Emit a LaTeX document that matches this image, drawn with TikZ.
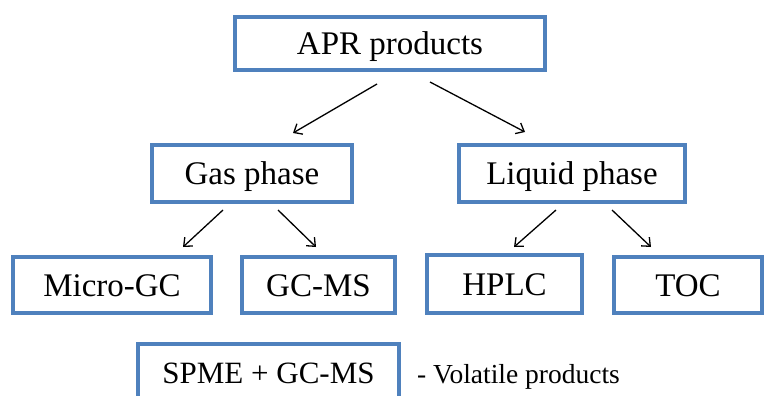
\documentclass[tikz,border=0pt]{standalone}
\usepackage{fontspec}
\setmainfont{Liberation Serif}
\newfontfamily\tnr{Liberation Serif}
\usetikzlibrary{arrows.meta,calc}
\definecolor{boxblue}{RGB}{79,129,189}
\begin{document}
\begin{tikzpicture}[x=1pt,y=-1pt,
  box/.style={draw=boxblue,line width=4pt,rectangle,inner sep=0pt,
    text height=22pt,text depth=0pt,font=\tnr\fontsize{33}{40}\selectfont},
  arr/.style={draw=black,line width=1.3pt,-{Straight Barb[length=7pt,width=12pt]}}]
\clip (0,0) rectangle (764,396);
\fill[white] (0,0) rectangle (764,396);
\node[box,minimum width=310pt,minimum height=53pt] (apr) at (390,43.5) {APR products};
\node[box,minimum width=200pt,minimum height=57pt] (gas) at (252,173.5) {Gas phase};
\node[box,minimum width=226pt,minimum height=57pt] (liq) at (572,173.5) {Liquid phase};
\node[box,minimum width=198pt,minimum height=56pt] (micro) at (112,285) {Micro-GC};
\node[box,minimum width=153pt,minimum height=56pt] (gcms) at (318.5,285) {GC-MS};
\node[box,minimum width=155pt,minimum height=58pt] (hplc) at (504.5,284) {HPLC};
\node[box,minimum width=148pt,minimum height=56pt] (toc) at (688,285) {TOC};
\node[box,minimum width=261pt,minimum height=58pt,text height=20.5pt,
  font=\tnr\fontsize{31}{37}\selectfont] (spme) at (268.5,373) {SPME + GC-MS};
\node[anchor=west,inner sep=0pt,text height=18pt,text depth=0pt,
  font=\tnr\fontsize{27.5}{33}\selectfont] (vol) at (417,374) {- Volatile products};
\draw[arr] ([xshift=-13pt,yshift=-12pt]apr.south) -- ([xshift=41pt,yshift=10pt]gas.north);
\draw[arr] ([xshift=40pt,yshift=-10pt]apr.south) -- ([xshift=-47pt,yshift=11pt]liq.north);
\draw[arr] ([xshift=-29pt,yshift=-6pt]gas.south) -- ([xshift=71pt,yshift=8pt]micro.north);
\draw[arr] ([xshift=26pt,yshift=-6pt]gas.south) -- ([xshift=-2.5pt,yshift=8pt]gcms.north);
\draw[arr] ([xshift=-16pt,yshift=-6pt]liq.south) -- ([xshift=9.5pt,yshift=6pt]hplc.north);
\draw[arr] ([xshift=40pt,yshift=-6pt]liq.south) -- ([xshift=-37pt,yshift=8pt]toc.north);
\end{tikzpicture}
\end{document}
